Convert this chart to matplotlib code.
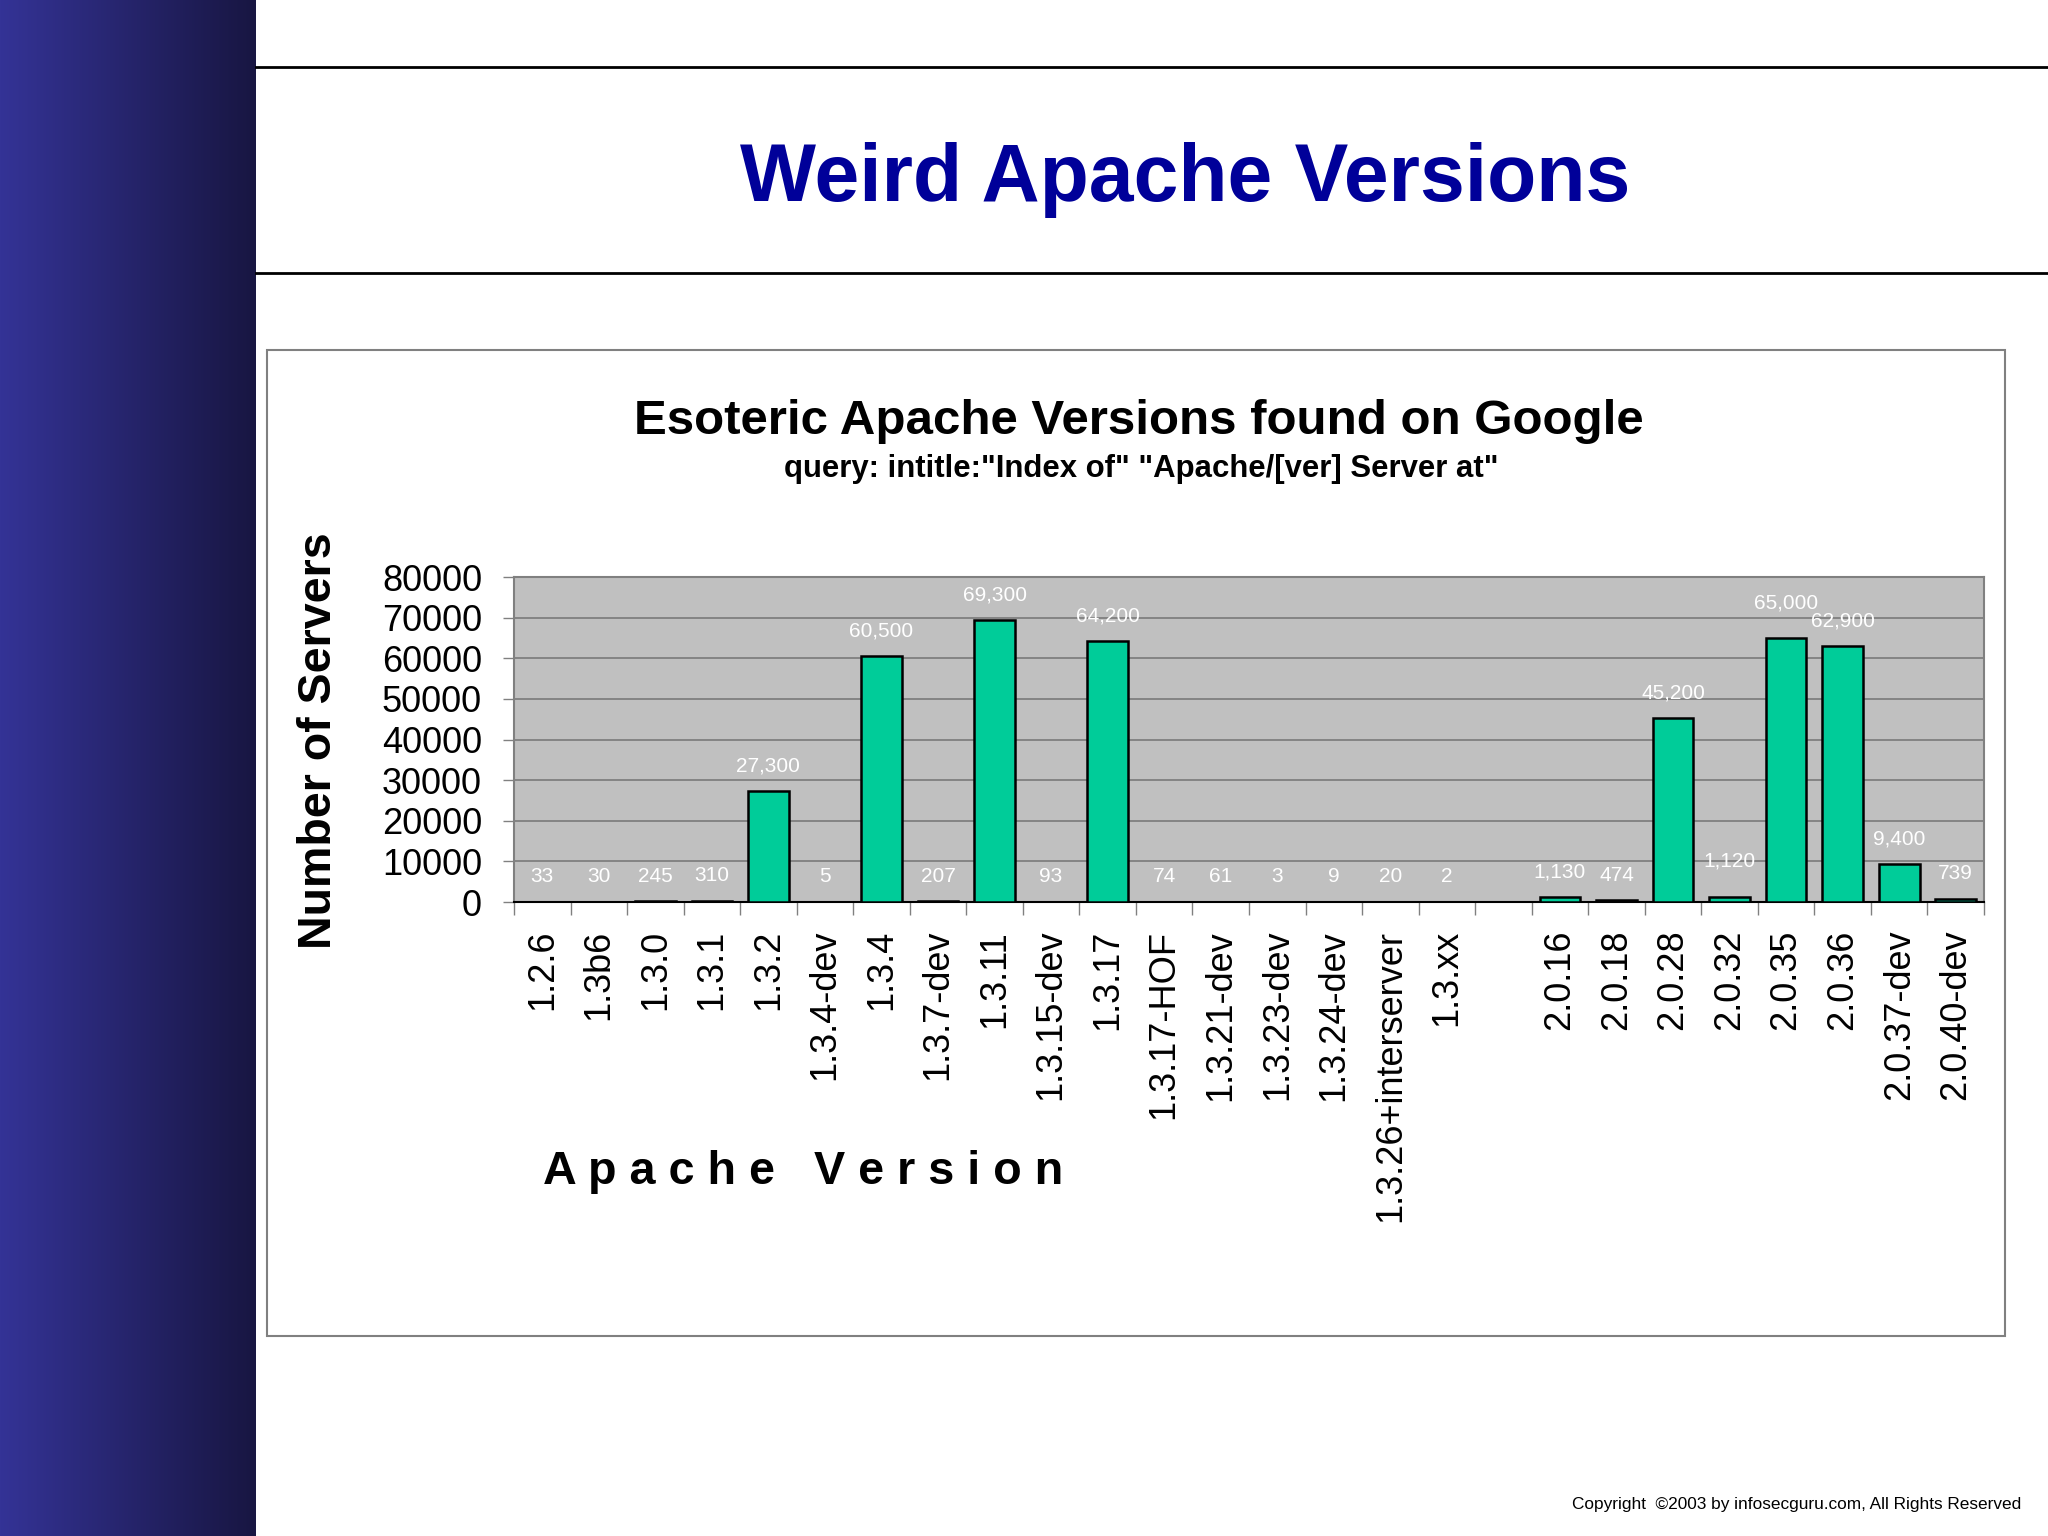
import numpy as np
import matplotlib
matplotlib.use("Agg")
import matplotlib.pyplot as plt
from matplotlib.patches import Rectangle
from matplotlib.lines import Line2D

plt.rcParams['font.family'] = ['Liberation Sans', 'DejaVu Sans']

# Data (empty slot between 1.3.xx and 2.0.16)
versions = ["1.2.6", "1.3b6", "1.3.0", "1.3.1", "1.3.2", "1.3.4-dev", "1.3.4",
            "1.3.7-dev", "1.3.11", "1.3.15-dev", "1.3.17", "1.3.17-HOF",
            "1.3.21-dev", "1.3.23-dev", "1.3.24-dev", "1.3.26+interserver",
            "1.3.xx", "", "2.0.16", "2.0.18", "2.0.28", "2.0.32", "2.0.35",
            "2.0.36", "2.0.37-dev", "2.0.40-dev"]
servers = [33, 30, 245, 310, 27300, 5, 60500, 207, 69300, 93, 64200, 74,
           61, 3, 9, 20, 2, np.nan, 1130, 474, 45200, 1120, 65000, 62900,
           9400, 739]
y_ticks = [0, 10000, 20000, 30000, 40000, 50000, 60000, 70000, 80000]

W, H = 2048, 1536
fig = plt.figure(figsize=(W / 100, H / 100), dpi=100)
fig.patch.set_facecolor('white')

# left gradient sidebar
side = fig.add_axes([0, 0, 256 / W, 1])
grad = np.linspace(0, 1, 256)[None, :, None]
c0 = np.array([0x34, 0x33, 0x96]) / 255
c1 = np.array([0x18, 0x16, 0x42]) / 255
side.imshow(c0 + (c1 - c0) * grad, aspect='auto', extent=[0, 1, 0, 1])
side.set_axis_off()

# header rules
for yy in (66.5, 273):
    fig.add_artist(Line2D([256 / W, 1], [1 - yy / H] * 2, color='black', lw=2,
                          transform=fig.transFigure))

fig.text(1185 / W, 1 - 180 / H, "Weird Apache Versions", color='#000099',
         fontsize=58, fontweight='bold', ha='center', va='center')

# chart frame
fig.add_artist(Rectangle((267 / W, 1 - 1336 / H), 1738 / W, 986 / H,
                         transform=fig.transFigure, fill=False,
                         edgecolor='#808080', lw=1.5))

fig.text(1139 / W, 1 - 422 / H, "Esoteric Apache Versions found on Google",
         fontsize=35.5, fontweight='bold', ha='center', va='center')
fig.text(1141 / W, 1 - 469 / H, 'query: intitle:"Index of" "Apache/[ver] Server at"',
         fontsize=22.4, fontweight='bold', ha='center', va='center')

ax = fig.add_axes([514 / W, 1 - 902 / H, 1470 / W, 325 / H])
ax.set_facecolor('#C0C0C0')
x = np.arange(len(versions))
ax.bar(x, servers, width=0.72, color='#00CC99', edgecolor='black', lw=1.8,
       zorder=3)

# a couple of labels sit a little higher in the original to avoid overlap
nudge = {"2.0.32": 8.5, "2.0.35": 7}
for xi, name, v in zip(x, versions, servers):
    if np.isnan(v):
        continue
    ax.annotate(f"{int(v):,}", (xi, v), xytext=(0, 18 + nudge.get(name, 0)),
                textcoords='offset points', ha='center', va='center',
                color='white', fontsize=15, zorder=4)

ax.set_xlim(-0.5, len(versions) - 0.5)
ax.set_ylim(0, 80000)
ax.set_yticks(y_ticks)
ax.set_yticklabels([str(t) for t in y_ticks], fontsize=26)
ax.tick_params(axis='y', length=8, width=1, color='#808080', pad=15)
ax.grid(axis='y', color='#7a7a7a', lw=1.2, zorder=1)

# ticks between categories, labels at centres
ax.set_xticks(np.arange(len(versions) + 1) - 0.5)
ax.set_xticklabels([])
ax.tick_params(axis='x', which='major', length=9, width=1, color='#808080')
ax.set_xticks(x, minor=True)
ax.set_xticklabels(versions, minor=True, rotation=90, fontsize=26)
ax.tick_params(axis='x', which='minor', length=0, pad=20)

for s in ax.spines.values():
    s.set_color('#808080')
    s.set_linewidth(1.5)
ax.spines['bottom'].set_color('black')

fig.text(319 / W, 1 - 741 / H, "Number of Servers", rotation=90, fontsize=33.5,
         fontweight='bold', ha='center', va='center')
fig.text(543 / W, 1 - 1172 / H, "A p a c h e   V e r s i o n", fontsize=33.7,
         fontweight='bold', ha='left', va='center')

fig.text(2021 / W, 1 - 1505 / H,
         "Copyright  \u00a92003 by infosecguru.com, All Rights Reserved",
         fontsize=12.4, ha='right', va='center')

fig.savefig("out.png", dpi=100)
